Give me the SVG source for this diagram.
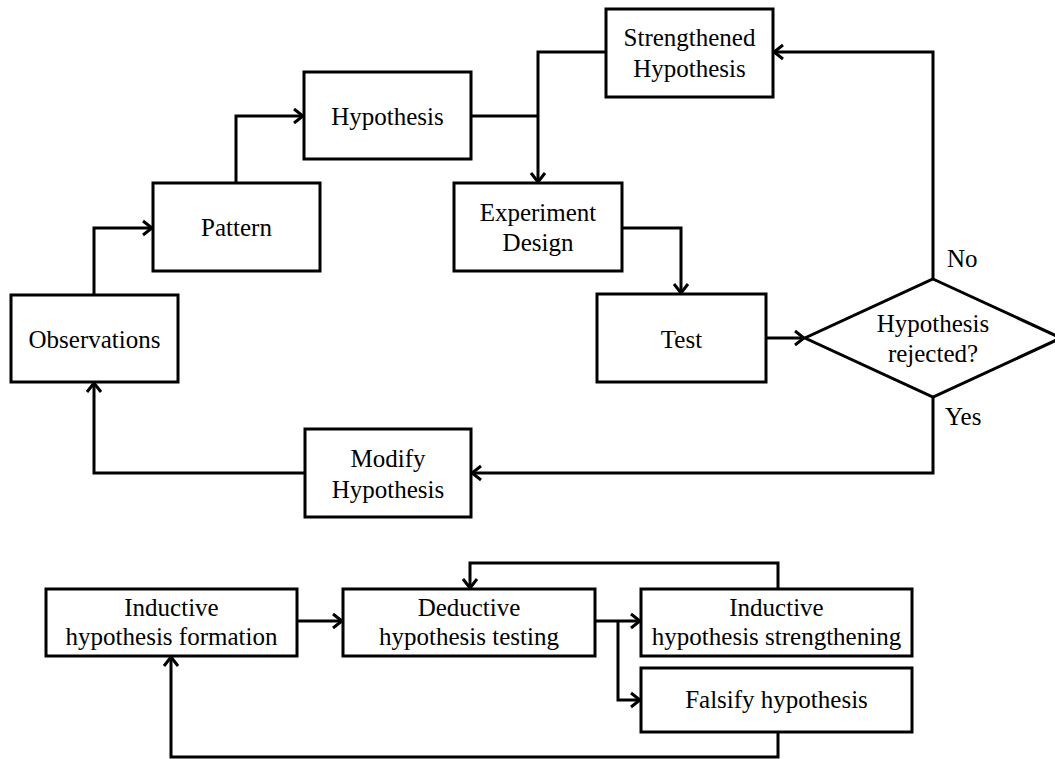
<svg xmlns="http://www.w3.org/2000/svg" width="1055" height="759" viewBox="0 0 1055 759">
<style>
.box{fill:#fff;stroke:#000;stroke-width:3}
.t{font-family:"Liberation Serif","Times New Roman",serif;font-size:25px;fill:#000;text-anchor:middle}
.l{font-family:"Liberation Serif","Times New Roman",serif;font-size:25px;fill:#000}
.c{fill:none;stroke:#000;stroke-width:3}
</style>
<defs>
<marker id="a" viewBox="-12 -9 14 18" markerWidth="14" markerHeight="18" refX="0" refY="0" orient="auto" markerUnits="userSpaceOnUse">
<path d="M-9,-7 L0,0 L-9,7" fill="none" stroke="#000" stroke-width="3"/>
</marker>
</defs>
<g id="connectors">
<path class="c" d="M94,295 V228 H152" marker-end="url(#a)"/>
<path class="c" d="M236,183 V116 H303" marker-end="url(#a)"/>
<path class="c" d="M471,116 H538"/>
<path class="c" d="M605,52 H538 V182" marker-end="url(#a)"/>
<path class="c" d="M622,228 H681 V293" marker-end="url(#a)"/>
<path class="c" d="M766,338 H804" marker-end="url(#a)"/>
<path class="c" d="M933,279 V52 H774" marker-end="url(#a)"/>
<path class="c" d="M933,397 V473 H472" marker-end="url(#a)"/>
<path class="c" d="M305,473 H94 V383" marker-end="url(#a)"/>
<path class="c" d="M297,621 H342" marker-end="url(#a)"/>
<path class="c" d="M595,621 H640" marker-end="url(#a)"/>
<path class="c" d="M618,621 V700 H640" marker-end="url(#a)"/>
<path class="c" d="M778,589 V563 H470 V588" marker-end="url(#a)"/>
<path class="c" d="M778,732 V757 H171 V657" marker-end="url(#a)"/>
</g>
<g id="observations"><rect class="box" x="11" y="295" width="167" height="87"/><text class="t" x="94.5" y="348">Observations</text></g>
<g id="pattern"><rect class="box" x="153" y="183" width="167" height="88"/><text class="t" x="236.5" y="236">Pattern</text></g>
<g id="hypothesis"><rect class="box" x="304" y="72" width="167" height="87"/><text class="t" x="387.5" y="125">Hypothesis</text></g>
<g id="strengthened"><rect class="box" x="606" y="9" width="167" height="88"/><text class="t" x="689.5" y="46">Strengthened</text><text class="t" x="689.5" y="77">Hypothesis</text></g>
<g id="experiment"><rect class="box" x="454" y="183" width="168" height="88"/><text class="t" x="538" y="221">Experiment</text><text class="t" x="538" y="251">Design</text></g>
<g id="test"><rect class="box" x="597" y="294" width="169" height="88"/><text class="t" x="681.5" y="348">Test</text></g>
<g id="decision"><path class="box" d="M933,279 L1061,338 L933,397 L805,338 Z"/><text class="t" x="933" y="332">Hypothesis</text><text class="t" x="933" y="362">rejected?</text></g>
<g id="labels"><text class="l" x="947" y="267">No</text><text class="l" x="945" y="425">Yes</text></g>
<g id="modify"><rect class="box" x="305" y="429" width="166" height="88"/><text class="t" x="388" y="467">Modify</text><text class="t" x="388" y="498">Hypothesis</text></g>
<g id="inductive-formation"><rect class="box" x="46" y="589" width="251" height="67"/><text class="t" x="171.5" y="616">Inductive</text><text class="t" x="171.5" y="645">hypothesis formation</text></g>
<g id="deductive-testing"><rect class="box" x="343" y="589" width="252" height="67"/><text class="t" x="469" y="616">Deductive</text><text class="t" x="469" y="645">hypothesis testing</text></g>
<g id="inductive-strengthening"><rect class="box" x="641" y="589" width="271" height="67"/><text class="t" x="776.5" y="616">Inductive</text><text class="t" x="776.5" y="645">hypothesis strengthening</text></g>
<g id="falsify"><rect class="box" x="641" y="668" width="271" height="64"/><text class="t" x="776.5" y="708">Falsify hypothesis</text></g>
</svg>
